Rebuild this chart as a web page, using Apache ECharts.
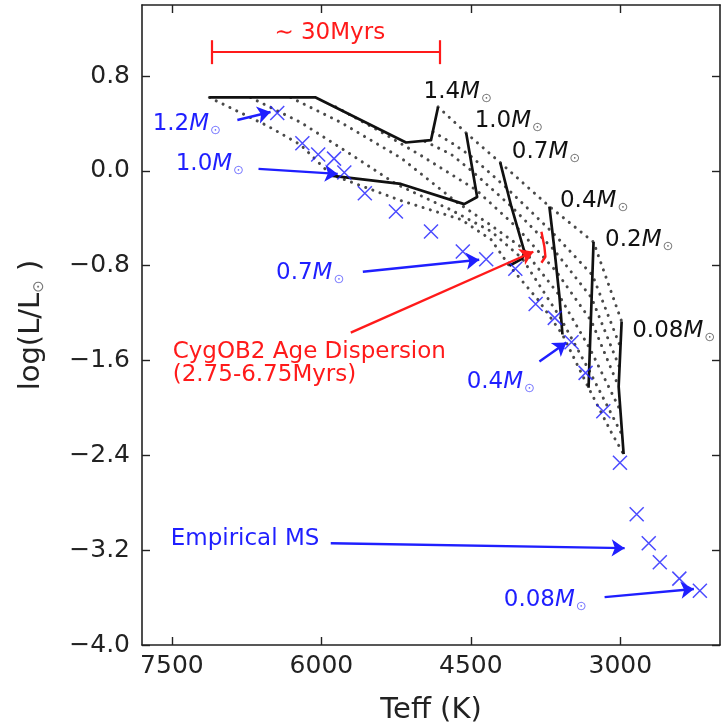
<!DOCTYPE html>
<html><head><meta charset="utf-8">
<script src="https://cdn.jsdelivr.net/npm/echarts@6/dist/echarts.min.js"></script>
<style>html,body{margin:0;padding:0;background:#fff}#c{width:721px;height:722px}</style>
</head><body><div id="c"></div>
<script>
// ---- axis ticks ----
const xTicks = [7500, 6000, 4500, 3000];
const yTicks = [-4.0, -3.2, -2.4, -1.6, -0.8, 0.0, 0.8];

// ---- evolutionary tracks (Teff, logL) ----
const trackNames = ['1.4', '1.0', '0.7', '0.4', '0.2', '0.08'];
const track14 = [[4829,0.54],[4900,0.26],[5151,0.24],[6057,0.62],[7124,0.62]];
const track10 = [[4547,0.32],[4437,-0.22],[4567,-0.28],[5202,-0.11],[5906,-0.04]];
const track07 = [[4205,0.07],[4094,-0.30],[3963,-0.68],[3984,-0.74],[4114,-0.80]];
const track04 = [[3712,-0.30],[3661,-0.665],[3611,-1.06],[3581,-1.38]];
const track02 = [[3269,-0.60],[3289,-1.09],[3319,-1.83]];
const track008 = [[2987,-1.27],[3017,-1.82],[2967,-2.39]];

// ---- isochrones (dotted) ----
const iso0 = [[4829,0.54],[4547,0.32],[4205,0.07],[3712,-0.30],[3269,-0.60],[2987,-1.27]];
const iso1 = [[4880,0.33],[4698,0.24],[4507,0.13],[4145,-0.14],[3692,-0.51],[3279,-0.88],[2997,-1.49]];
const iso2 = [[4960,0.25],[4698,0.14],[4477,-0.01],[4094,-0.30],[3672,-0.66],[3289,-1.07],[3007,-1.66]];
const iso3 = [[5856,0.54],[5403,0.33],[5000,0.13],[4447,-0.16],[4034,-0.48],[3641,-0.85],[3289,-1.27],[3017,-1.82]];
const iso4 = [[6309,0.62],[5806,0.41],[5202,0.11],[4648,-0.26],[4296,-0.46],[3984,-0.65],[3621,-1.04],[3299,-1.51],[3007,-2.01]];
const iso5 = [[6712,0.62],[6208,0.41],[5705,0.14],[5252,-0.11],[4698,-0.33],[4296,-0.51],[3984,-0.74],[3601,-1.24],[3309,-1.69],[2987,-2.22]];
const iso6 = [[7124,0.62],[6541,0.38],[6208,0.22],[5906,-0.03],[5202,-0.25],[4598,-0.41],[4296,-0.58],[4115,-0.80],[3823,-1.09],[3581,-1.38],[3319,-1.83],[3088,-2.21],[2967,-2.39]];

// ---- empirical main sequence (x markers) ----
const msTeff = [6443,6191,6032,5873,5770,5564,5252,4900,4581,4346,4054,3850,3658,3490,3349,3171,3004,2836,2715,2604,2408,2202];
const msLogL = [0.488,0.233,0.139,0.104,-0.013,-0.188,-0.343,-0.511,-0.680,-0.745,-0.825,-1.123,-1.240,-1.446,-1.704,-2.027,-2.462,-2.897,-3.141,-3.301,-3.440,-3.543];

// ---- CygOB2 age dispersion segment ----
const cygSegment = [[3792,-0.514],[3762,-0.640],[3752,-0.724],[3792,-0.775]];
// ---- ~30 Myr bracket ----
const bracketTeff = [7097, 4816];
const bracketLogL = [1.002, 1.103, 0.901];

// ---- annotation arrows [from, to] ----
const blueArrows = [
  [[6843,0.43],[6510,0.497]],
  [[6631,0.017],[5836,-0.025]],
  [[5584,-0.851],[4416,-0.749]],
  [[3812,-1.608],[3541,-1.448]],
  [[5906,-3.141],[2957,-3.183]],
  [[3158,-3.596],[2262,-3.528]]
];
const redArrows = [[[5705,-1.364],[3873,-0.682]]];

// ---- annotation texts ----
const trackLabelPos = [[4980,0.665],[4467,0.421],[4094,0.160],[3611,-0.253],[3158,-0.581],[2886,-1.347]];
const blueMassNames = ['1.2','1.0','0.7','0.4','0.08'];
const blueMassPos = [[7698,0.396],[7467,0.059],[6460,-0.859],[4547,-1.777],[4175,-3.621]];
const blueTexts = ['Empirical MS'];
const blueTextPos = [[7517,-3.107]];
const redTexts = ['CygOB2 Age Dispersion\n(2.75-6.75Myrs)', '∼ 30Myrs'];
const redTextPos = [[7497,-1.625],[5916,1.162]];

const FONT = 'DejaVu Sans';
const BLUE = '#1f1fff', RED = '#ff1a1a', BLACK = '#111';
function massRich(c, sc) {
  return {
    n: {fontSize: 23, fontFamily: FONT, color: c},
    m: {fontSize: 23, fontFamily: FONT, fontStyle: 'italic', color: c},
    s: {fontSize: 13, fontFamily: FONT, color: sc, padding: [14, 0, 0, 1]}
  };
}
const massFmt = s => '{n|' + s + '}{m|M}{s|⊙}';

const dotted = {type: [0.1, 7.5], cap: 'round', width: 3, color: '#4a4a4a'};
const solid = {type: 'solid', width: 2.7, color: BLACK, join: 'round'};

const series = [];
[iso0, iso1, iso2, iso3, iso4, iso5, iso6].forEach(d => series.push({
  type: 'line', data: d, showSymbol: false, symbol: 'none', lineStyle: dotted, z: 2, silent: true
}));
[track14, track10, track07, track04, track02, track008].forEach(d => series.push({
  type: 'line', data: d, showSymbol: false, symbol: 'none', lineStyle: solid, z: 3, silent: true
}));
series.push({
  type: 'scatter', data: msTeff.map((t, i) => [t, msLogL[i]]),
  symbol: 'path://M0 0L10 10M10 0L0 10', symbolSize: 14,
  itemStyle: {color: 'none', borderColor: 'rgba(30,30,255,0.8)', borderWidth: 1.5, opacity: 1}, z: 4
});
series.push({
  type: 'line', data: cygSegment, showSymbol: false, symbol: 'none',
  lineStyle: {color: RED, width: 2.4}, z: 5
});
series.push({
  type: 'lines', coordinateSystem: 'cartesian2d', polyline: false,
  data: [
    {coords: [[bracketTeff[0], bracketLogL[0]], [bracketTeff[1], bracketLogL[0]]]},
    {coords: [[bracketTeff[0], bracketLogL[1]], [bracketTeff[0], bracketLogL[2]]]},
    {coords: [[bracketTeff[1], bracketLogL[1]], [bracketTeff[1], bracketLogL[2]]]}
  ],
  lineStyle: {color: RED, width: 2.2, opacity: 1}, symbol: 'none', z: 5
});
series.push({
  type: 'lines', coordinateSystem: 'cartesian2d',
  data: blueArrows.map(c => ({coords: c})),
  symbol: ['none', 'arrow'], symbolSize: 13,
  lineStyle: {color: BLUE, width: 2.4, opacity: 1}, z: 6
});
series.push({
  type: 'lines', coordinateSystem: 'cartesian2d',
  data: redArrows.map(c => ({coords: c})),
  symbol: ['none', 'arrow'], symbolSize: 13,
  lineStyle: {color: RED, width: 2.4, opacity: 1}, z: 6
});
// text labels
const txtItem = {color: 'rgba(0,0,0,0)', opacity: 1};
series.push({
  type: 'scatter', symbolSize: 1, itemStyle: txtItem, z: 7,
  data: trackLabelPos.map((p, i) => ({value: p, label: {formatter: massFmt(trackNames[i])}})),
  label: {show: true, position: 'right', distance: 0, opacity: 1, rich: massRich(BLACK, '#777')}
});
series.push({
  type: 'scatter', symbolSize: 1, itemStyle: txtItem, z: 7,
  data: blueMassPos.map((p, i) => ({value: p, label: {formatter: massFmt(blueMassNames[i])}})),
  label: {show: true, position: 'right', distance: 0, opacity: 1, rich: massRich(BLUE, '#7a7aff')}
});
series.push({
  type: 'scatter', symbolSize: 1, itemStyle: txtItem, z: 7,
  data: blueTextPos.map((p, i) => ({value: p, label: {formatter: blueTexts[i]}})),
  label: {show: true, position: 'right', distance: 0, opacity: 1, color: BLUE, fontSize: 23, fontFamily: FONT}
});
series.push({
  type: 'scatter', symbolSize: 1, itemStyle: txtItem, z: 7,
  data: [
    {value: redTextPos[0], label: {formatter: redTexts[0], position: 'right', align: 'left', lineHeight: 23}},
    {value: redTextPos[1], label: {formatter: redTexts[1], position: 'inside'}}
  ],
  label: {show: true, distance: 0, opacity: 1, color: RED, fontSize: 23, fontFamily: FONT}
});

const axisLineStyle = {onZero: false, lineStyle: {color: '#222', width: 1.6}};
const tickStyle = {inside: true, length: 8, lineStyle: {color: '#222', width: 1.4}};
const yFmt = v => (v < 0 ? '−' : '') + Math.abs(v).toFixed(1);
const xFmt = v => String(v);

const option = {
  animation: false,
  backgroundColor: '#fff',
  grid: {left: 142, right: 1, top: 5, bottom: 77, containLabel: false, outerBoundsMode: 'none'},
  xAxis: [{
    type: 'value', min: 2000, max: 7800, inverse: true, position: 'bottom',
    name: 'Teff (K)', nameLocation: 'middle', nameGap: 51,
    nameTextStyle: {fontSize: 29, fontFamily: FONT, color: '#222'},
    axisLine: axisLineStyle, splitLine: {show: false},
    axisTick: Object.assign({customValues: xTicks}, tickStyle),
    axisLabel: {customValues: xTicks, formatter: xFmt, fontSize: 25, fontFamily: FONT, color: '#222', margin: 9}
  }, {
    type: 'value', min: 2000, max: 7800, inverse: true, position: 'top',
    axisLine: axisLineStyle, splitLine: {show: false},
    axisTick: Object.assign({customValues: xTicks}, tickStyle),
    axisLabel: {show: false}
  }],
  yAxis: [{
    type: 'value', min: -4.0, max: 1.4, position: 'left',
    name: '{t|log(L/L}{s|⊙}{t| )}', nameLocation: 'middle', nameGap: 95,
    nameTextStyle: {fontSize: 29, fontFamily: FONT, color: '#222',
      rich: {t: {fontSize: 29, fontFamily: FONT, color: '#222'},
             s: {fontSize: 15, fontFamily: FONT, color: '#777', padding: [16, 0, 0, 0]}}},
    axisLine: axisLineStyle, splitLine: {show: false},
    axisTick: Object.assign({customValues: yTicks}, tickStyle),
    axisLabel: {customValues: yTicks, formatter: yFmt, fontSize: 25, fontFamily: FONT, color: '#222', margin: 12}
  }, {
    type: 'value', min: -4.0, max: 1.4, position: 'right',
    axisLine: axisLineStyle, splitLine: {show: false},
    axisTick: Object.assign({customValues: yTicks}, tickStyle),
    axisLabel: {show: false}
  }],
  series: series
};
const chart = echarts.init(document.getElementById('c'), null, {renderer: 'canvas'});
chart.setOption(option);
</script></body></html>
